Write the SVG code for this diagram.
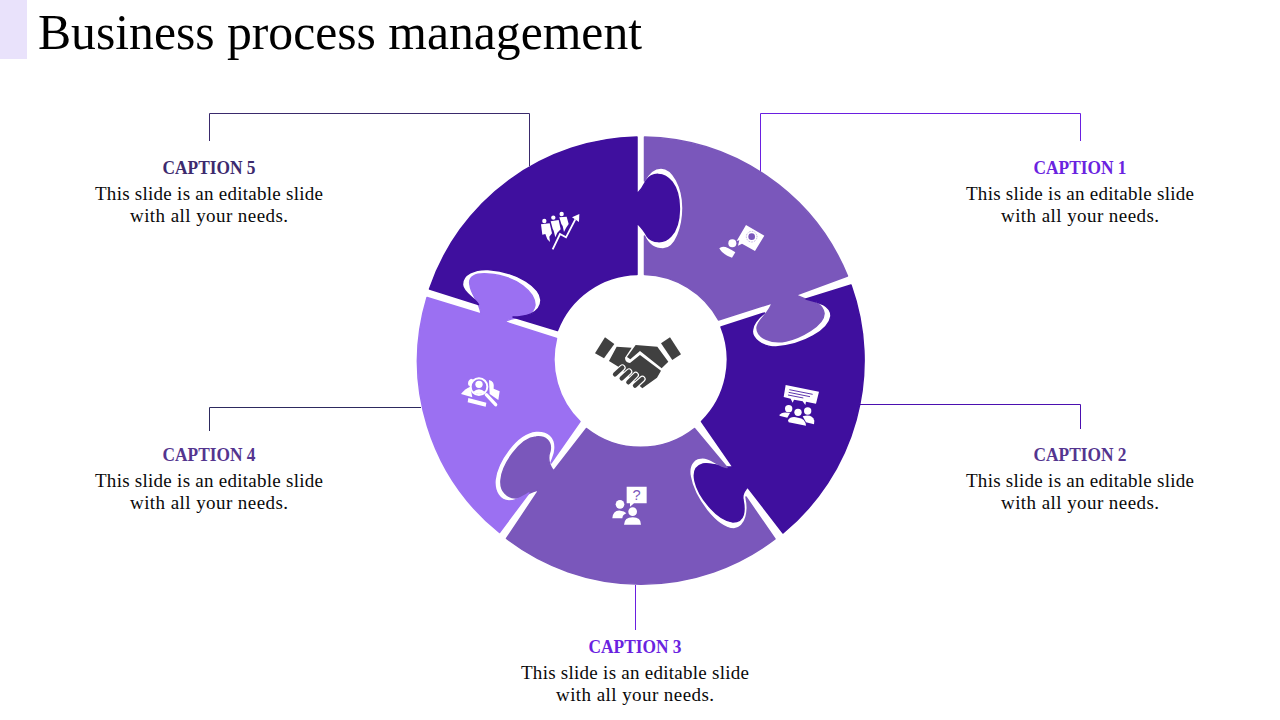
<svg xmlns="http://www.w3.org/2000/svg" width="1280" height="720" viewBox="0 0 1280 720">
<style>
text{font-family:"Liberation Serif","Times New Roman",serif;text-anchor:middle;fill:#0a0a0a}
.title{font-size:50px;text-anchor:start;fill:#000}
.cap{font-size:18px;font-weight:bold}
.body{font-size:19px}
.conn{fill:none;stroke-width:1}
.piece{stroke-width:1.5;stroke-linejoin:round}
.w{fill:#fff}
.a{fill:#7a57bb;stroke:#7a57bb}
.b{fill:#3f0f9e;stroke:#3f0f9e}
.c{fill:#9b70f2;stroke:#9b70f2}
</style>
<rect x="0" y="0" width="27" height="59" fill="#e9e2fb"/>
<text class="title" x="38" y="49" textLength="604" lengthAdjust="spacingAndGlyphs">Business process management</text>
<g id="connectors">
<path class="conn" stroke="#6a1fe0" d="M760.5,172V113.5H1080.5V141"/>
<path class="conn" stroke="#4b0fb0" d="M860,404.5H1080.5V429"/>
<path class="conn" stroke="#6a1fe0" d="M635.5,585V630"/>
<path class="conn" stroke="#2d2a5e" d="M421,407.5H209.5V431"/>
<path class="conn" stroke="#3a2a6c" d="M529.5,166V113.5H209.5V141"/>
</g>
<g id="piece-1">
<path class="piece a" d="M644.5,137 A224,224 0 0 1 847.5,276 L796,295 C806,301 822,300 824,313 C825,325 800,338 786,341 C772,344 757,338 757,328 C757,320 770,313 772,303 L718.5,320 A87,87 0 0 0 644.5,274.5 L644.5,236 C648,244 655,249 663,249 C676,249 683,226 683,208 C683,187 673,168 661,168 C653,168 648,174 644.5,181 Z"/>
<g class="w" transform="translate(710,215) scale(.3333)">
<path d="M108,30 L163,62 L135,108 L96,86 L84,92 L88,76 L80,78 Z"/>
<circle cx="125" cy="65" r="10" fill="#7a57bb"/>
<circle cx="125" cy="65" r="16" fill="none" stroke="#7a57bb" stroke-width="2" stroke-dasharray="2 3"/>
<circle cx="67" cy="85" r="12"/>
<path d="M28,100 Q40,86 76,112 L66,128 Q36,118 28,100Z"/>
</g>
</g>
<g id="piece-2">
<path class="piece b" d="M851,285 A224,224 0 0 1 783,533 L747.5,487 C744,492 742,494 743,500 C745,510 745,522 733,522 C716,520 698,495 695,481 C693,472 696,466 703,464 C711,462 722,468 733,467 L701.5,421.5 A87,87 0 0 0 721,327 L764.5,313 C762,315 753,322 752.5,330 C751,338 762,347 776,347 C804,345 829,330 831,316 C831,305 818,302 806,299 Z"/>
<g class="w" transform="translate(770,375) scale(.3333)">
<path d="M47,30 L147,50 L138,86 L108,80 L106,90 L98,79 L72,74 L68,83 L62,71 L41,66 Z"/>
<path d="M58,44 L128,58 M56,52 L120,65 M54,60 L100,69" stroke="#3f0f9e" stroke-width="2.5" fill="none"/>
<circle cx="56" cy="101" r="11"/><circle cx="84" cy="112" r="11"/><circle cx="113" cy="108" r="11"/>
<path d="M28,122 Q34,108 60,114 L52,128Z"/>
<path d="M98,124 Q126,116 133,137 L132,148 L108,142Z"/>
<path d="M54,136 Q62,122 84,128 Q106,130 108,152 L56,142Z"/>
</g>
</g>
<g id="piece-3">
<path class="piece a" d="M775,539 A221,221 0 0 1 506.5,538.5 L539,490 C530,491 524,498 516,498 C507,498 500,491 501,480 C502,465 520,438 536,437 C545,436 552,441 550,451 C547,459 549,465 553.5,471 L586.5,428.5 A87,87 0 0 0 694.5,428.5 L727,467.5 C719,467 712,459 705,458 C696,457 688,462 690,476 C694,498 716,528 734,529 C747,527 749,510 746,497 Z"/>
<g class="w" transform="translate(605,480) scale(.3333)">
<path d="M65,20 H125 V70 H87 L75,80 V70 H65Z"/>
<text x="95" y="61" style="font-size:44px;fill:#7a57bb;font-family:'Liberation Sans',sans-serif">?</text>
<circle cx="45" cy="73" r="13"/><circle cx="83" cy="95" r="13"/>
<path d="M22,115 Q24,90 46,92 Q58,92 64,100 Q52,105 52,115Z"/>
<path d="M57,134 Q58,112 83,112 Q108,112 108,134Z"/>
</g>
</g>
<g id="piece-4">
<path class="piece c" d="M499.5,532.5 A220,220 0 0 1 427,297.5 L481,314 C480,302 471,295 470,285 C468,277 475,273 488,274 C518,276 535,293 535,305 C533,320 510,316 505,322 L556.5,338.5 A87,87 0 0 0 580,421.5 L551,463 C552,459 555,455 555,449 C556,437 548,430 536,431 C516,433 497,462 495,480 C494,492 500,501 509,501 C516,501 522,497 529,493 Z"/>
<g class="w" transform="translate(455,370) scale(.3333)">
<path d="M48,26 Q36,32 40,46 L52,52 L58,30Z"/>
<path d="M102,30 Q120,34 116,56 L134,64 L130,90 L104,72Z"/>
<path d="M46,50 Q30,56 18,72 L52,82Z"/>
<path d="M40,84 L94,98 L92,110 L38,97Z"/>
<circle cx="72" cy="50" r="25" fill="#9b70f2" stroke="#fff" stroke-width="6"/>
<circle cx="72" cy="43" r="11"/>
<path d="M54,66 Q72,50 90,66 Q72,78 54,66Z"/>
<path d="M94,74 L122,104" stroke="#fff" stroke-width="10" stroke-linecap="round"/>
</g>
</g>
<g id="piece-5">
<path class="piece b" d="M429.5,289 A224,224 0 0 1 637,137 L637,194 C640,191 643,187 646,181 C652,172 664,172 672,182 C682,195 682,224 671,236 C664,244 652,243 647,236 C645,232 641,227 637,223 L637,274.5 A87,87 0 0 0 557.5,330.5 L513,317 C522,317 541,315 541,300 C540,288 520,272 488,269.5 C475,269 462,274 462.5,285 C463,293 475,298 478.5,304.5 Z"/>
<g class="w" transform="translate(530,200) scale(.3333)">
<circle cx="43" cy="63" r="6.5"/><circle cx="70" cy="53" r="6.5"/><circle cx="95" cy="42" r="6.5"/>
<path d="M33,73 L59,70 L66,100 L58,110 L60,126 L52,118 L46,102 L37,104Z"/>
<path d="M62,64 L86,60 L92,88 L82,98 L76,112 L71,92 L68,86Z"/>
<path d="M88,52 L110,50 L116,72 L108,84 L102,96 L98,78 L94,72Z"/>
<path d="M68,148 L90,102 L108,112 L136,58" fill="none" stroke="#fff" stroke-width="5.5"/>
<path d="M126,52 L148,42 L147,66Z"/>
</g>
</g>
<g id="center-icon" transform="translate(585,325) scale(.3333)" fill="#404040">
<path d="M60,37 L88,57 L57,100 L30,85Z"/>
<path d="M255,37 L288,88 L262,105 L228,55Z"/>
<path d="M95,65 L140,68 L120,98 Q120,112 135,114 L165,90 L228,137 L216,158 L172,190 L100,125 L72,108Z"/>
<path d="M152,60 L217,65 L250,110 L230,130 L165,78 L136,103 L126,96Z"/>
<g fill="none" stroke-linecap="round">
<path d="M90,148L112,128M110,160L132,140M130,172L152,150M150,182L172,162" stroke="#fff" stroke-width="20"/>
<path d="M90,148L112,128M110,160L132,140M130,172L152,150M150,182L172,162" stroke="#404040" stroke-width="13"/>
</g>
</g>
<g id="caption-1">
<text class="cap" x="1080" y="174" textLength="93" lengthAdjust="spacingAndGlyphs" style="fill:#6a22e0">CAPTION 1</text>
<text class="body" x="1080" y="200" textLength="228">This slide is an editable slide</text>
<text class="body" x="1080" y="222" textLength="158">with all your needs.</text>
</g>
<g id="caption-2">
<text class="cap" x="1080" y="461" textLength="93" lengthAdjust="spacingAndGlyphs" style="fill:#54358f">CAPTION 2</text>
<text class="body" x="1080" y="487" textLength="228">This slide is an editable slide</text>
<text class="body" x="1080" y="509" textLength="158">with all your needs.</text>
</g>
<g id="caption-3">
<text class="cap" x="635" y="653" textLength="93" lengthAdjust="spacingAndGlyphs" style="fill:#6a22e0">CAPTION 3</text>
<text class="body" x="635" y="679" textLength="228">This slide is an editable slide</text>
<text class="body" x="635" y="701" textLength="158">with all your needs.</text>
</g>
<g id="caption-4">
<text class="cap" x="209" y="461" textLength="93" lengthAdjust="spacingAndGlyphs" style="fill:#54358f">CAPTION 4</text>
<text class="body" x="209" y="487" textLength="228">This slide is an editable slide</text>
<text class="body" x="209" y="509" textLength="158">with all your needs.</text>
</g>
<g id="caption-5">
<text class="cap" x="209" y="174" textLength="93" lengthAdjust="spacingAndGlyphs" style="fill:#3d2a6e">CAPTION 5</text>
<text class="body" x="209" y="200" textLength="228">This slide is an editable slide</text>
<text class="body" x="209" y="222" textLength="158">with all your needs.</text>
</g>
</svg>
